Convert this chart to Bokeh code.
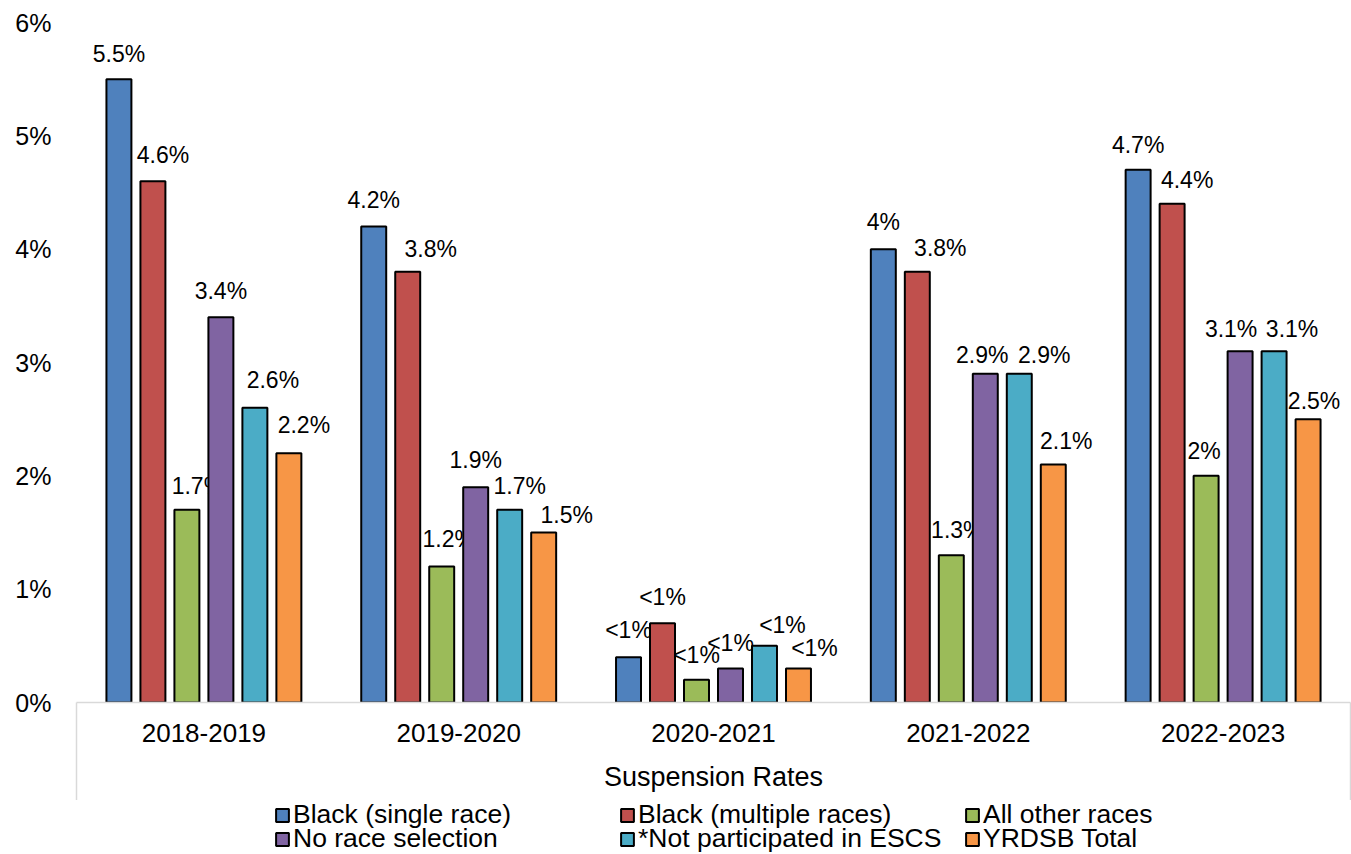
from bokeh.plotting import figure
from bokeh.layouts import column
from bokeh.models import ColumnDataSource, Range1d, FixedTicker, Legend, LegendItem
from bokeh.core.properties import value
from bokeh.embed import file_html
from bokeh.resources import INLINE

# ---- data (suspension rate, %) ----
years = ["2018-2019", "2019-2020", "2020-2021", "2021-2022", "2022-2023"]
series_names = [
    "Black (single race)",
    "Black (multiple races)",
    "All other races",
    "No race selection",
    "*Not participated in ESCS",
    "YRDSB Total",
]
black_single = [5.5, 4.2, 0.4, 4.0, 4.7]
black_multiple = [4.6, 3.8, 0.7, 3.8, 4.4]
all_other_races = [1.7, 1.2, 0.2, 1.3, 2.0]
no_race_selection = [3.4, 1.9, 0.3, 2.9, 3.1]
not_participated = [2.6, 1.7, 0.5, 2.9, 3.1]
yrdsb_total = [2.2, 1.5, 0.3, 2.1, 2.5]
y_ticks = [0, 1, 2, 3, 4, 5, 6]
axis_title = "Suspension Rates"

series_values = [black_single, black_multiple, all_other_races,
                 no_race_selection, not_participated, yrdsb_total]

# ---- styling ----
FONT = "Liberation Sans"
colors = ["#4F81BD", "#C0504D", "#9BBB59", "#8064A2", "#4BACC6", "#F79646"]
bar_pitch = 0.1334      # distance between neighbouring bars of one year
bar_width = 0.098
edge_tick_len = 98      # gray dividers framing the category labels

# hand-placed data label nudges (pixels): horizontal shift and baseline height above bar top
label_dx = [
    [0, 0, 0, 0, 0],
    [10, 23, 0, 23, 15],
    [11, 7, 0, 6, -2],
    [0, 0, 0, -3, -9],
    [18, 10, 18, 25, 18],
    [15, 23, 16, 13, 6],
]
label_gap = [
    [25, 27, 27, 27, 25],
    [26, 23, 26, 24, 24],
    [24, 28, 25, 25, 25],
    [26, 27, 26, 19, 22],
    [28, 24, 21, 19, 22],
    [28, 18, 21, 24, 18],
]


def fmt(v):
    return "<1%" if v < 1 else f"{v:g}%"


# ---- main chart ----
p = figure(
    width=1351, height=800,
    x_range=Range1d(-0.5, len(years) - 0.5),
    y_range=Range1d(0, 6),
    output_backend="svg", toolbar_location=None,
    min_border_left=76, min_border_right=1,
    min_border_top=22, min_border_bottom=edge_tick_len,
)
p.outline_line_color = None
p.background_fill_color = "white"
p.border_fill_color = "white"
p.xgrid.visible = False
p.ygrid.visible = False

for k, (vals, color) in enumerate(zip(series_values, colors)):
    xs = [i + (k - 2.5) * bar_pitch for i in range(len(years))]
    src = ColumnDataSource(dict(
        x=xs, top=vals,
        label=[fmt(v) for v in vals],
        dx=label_dx[k],
        dy=[-g for g in label_gap[k]],
    ))
    p.vbar(x="x", top="top", bottom=0, width=bar_width, source=src,
           fill_color=color, line_color="black", line_width=2)
    p.text(x="x", y="top", text="label", x_offset="dx", y_offset="dy", source=src,
           text_align="center", text_baseline="alphabetic",
           text_font=value(FONT), text_font_size="23px", text_color="black")

# y axis: percent labels only
ya = p.yaxis[0]
ya.ticker = FixedTicker(ticks=y_ticks, minor_ticks=[])
ya.major_label_overrides = {t: f"{t}%" for t in y_ticks}
ya.axis_line_color = None
ya.major_tick_line_color = None
ya.minor_tick_line_color = None
ya.major_label_standoff = 19
ya.major_label_text_font = FONT
ya.major_label_text_font_size = "25px"
ya.major_label_text_color = "black"

# x axis: year labels, outer title, and long edge ticks framing the category table
xa = p.xaxis[0]
xa.ticker = FixedTicker(ticks=list(range(len(years))), minor_ticks=[-0.5, len(years) - 0.5])
xa.major_label_overrides = {i: y for i, y in enumerate(years)}
xa.axis_line_color = "#d9d9d9"
xa.axis_line_width = 1.5
xa.major_tick_line_color = None
xa.major_tick_out = 0
xa.major_tick_in = 0
xa.minor_tick_line_color = "#d9d9d9"
xa.minor_tick_line_width = 1.5
xa.minor_tick_out = edge_tick_len
xa.minor_tick_in = 0
# the long edge ticks count toward the label offset, so pull the labels back up
xa.major_label_standoff = 21 - edge_tick_len
xa.major_label_text_font = FONT
xa.major_label_text_font_size = "26px"
xa.major_label_text_color = "black"
xa.axis_label = axis_title
xa.axis_label_standoff = 17
xa.axis_label_text_font = FONT
xa.axis_label_text_font_size = "27px"
xa.axis_label_text_font_style = "normal"
xa.axis_label_text_color = "black"

# ---- legend strip under the chart ----
leg = figure(
    width=1351, height=54,
    x_range=Range1d(0, 1), y_range=Range1d(0, 1),
    x_axis_type=None, y_axis_type=None,
    output_backend="svg", toolbar_location=None,
    min_border=0,
)
leg.outline_line_color = None
leg.xgrid.visible = False
leg.ygrid.visible = False

# swatch renderers: zero-size bars, so only their legend glyphs show
swatches = [leg.vbar(x=[0.5], bottom=[0.5], top=[0.5], width=0, fill_color=c,
                     line_color="black", line_width=2) for c in colors]
items = [LegendItem(label=n, renderers=[r]) for n, r in zip(series_names, swatches)]


def add_row(row_items, loc):
    lg = Legend(items=row_items, orientation="horizontal", location=loc,
                glyph_width=16, glyph_height=16, label_standoff=3,
                label_width=304, spacing=22, padding=0, margin=0,
                border_line_color=None, background_fill_alpha=0,
                label_text_font=FONT, label_text_font_size="26.5px",
                label_text_color="black")
    leg.add_layout(lg)


add_row(items[:3], (198, 24))
add_row(items[3:], (198, 0))

layout = column(p, leg, spacing=0)
open("out.html", "w").write(file_html(layout, INLINE))
